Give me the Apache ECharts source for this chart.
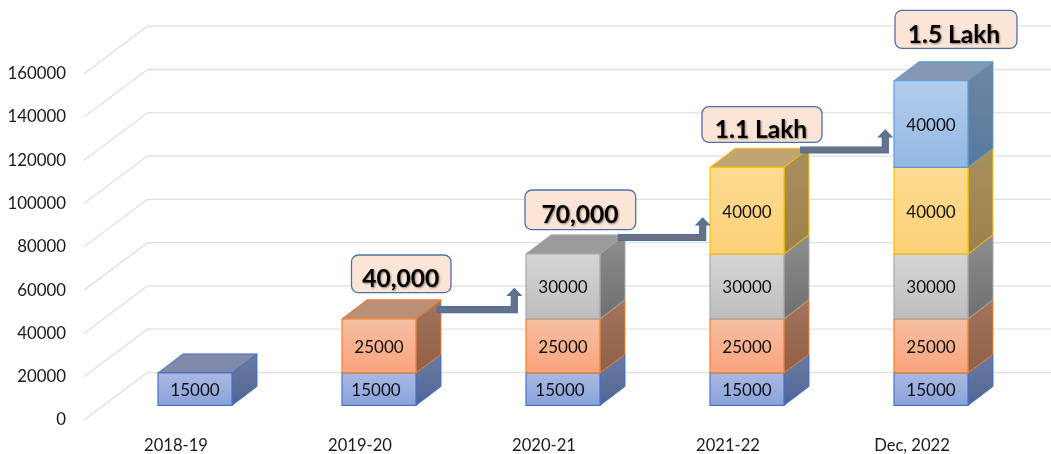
<!DOCTYPE html>
<html>
<head>
<meta charset="utf-8">
<style>
  html, body { margin: 0; padding: 0; background: #fff; }
  #chart { width: 1051px; height: 454px; }
</style>
</head>
<body>
<div id="chart"></div>
<script src="https://cdn.jsdelivr.net/npm/echarts@6/dist/echarts.min.js"></script>
<script>
var categories = ['2018-19', '2019-20', '2020-21', '2021-22', 'Dec, 2022'];
var yTicks = [0, 20000, 40000, 60000, 80000, 100000, 120000, 140000, 160000];

// stacked values, bottom to top
var layer1 = [15000, 15000, 15000, 15000, 15000];
var layer2 = [null, 25000, 25000, 25000, 25000];
var layer3 = [null, null, 30000, 30000, 30000];
var layer4 = [null, null, null, 40000, 40000];
var layer5 = [null, null, null, null, 40000];
var calloutTexts = ['40,000', '70,000', '1.1 Lakh', '1.5 Lakh'];

var FONT = 'Lato';

// oblique projection of the floor and of the bars
var WALL_DX = 63.5, WALL_DY = -47.5;
var BAR_DX = 19, BAR_DY = -14.6;
var DEPTH_DX = 25, DEPTH_DY = -19;
var BAR_WIDTH = 0.402;

var layers = [
    { values: layer1, border: '#4472c4', front: ['#a9b9e4', '#8aa2da'], side: ['#6d7da0', '#4d6494'], top: '#7f89a9' },
    { values: layer2, border: '#ed7d31', front: ['#f7bfa3', '#f9a47d'], side: ['#a3755f', '#8f5f45'], top: '#ba8f78' },
    { values: layer3, border: '#a5a5a5', front: ['#d5d5d5', '#bebebe'], side: ['#8e8e8e', '#6f6f6f'], top: '#9b9b9b' },
    { values: layer4, border: '#ffc000', front: ['#fddb92', '#fdd178'], side: ['#a8905f', '#9d8148'], top: '#bfa573' },
    { values: layer5, border: '#5b9bd5', front: ['#b3cdeb', '#93b8e3'], side: ['#6f86a0', '#557a9f'], top: '#8399b3' }
];

function vertical(colors) {
    return new echarts.graphic.LinearGradient(0, 0, 0, 1, [
        { offset: 0, color: colors[0] },
        { offset: 1, color: colors[1] }
    ]);
}

// gridlines on the side wall and back wall
function renderWall(params, api) {
    var p = api.coord([0, api.value(1)]);
    var x0 = params.coordSys.x;
    return {
        type: 'polyline',
        shape: { points: [[x0, p[1]], [x0 + WALL_DX, p[1] + WALL_DY], [api.getWidth(), p[1] + WALL_DY]] },
        style: { stroke: '#e0e0e0', lineWidth: 1.3, fill: null }
    };
}

function makeBoxRenderer(layer, index) {
    return function (params, api) {
        var cat = api.value(0);
        var low = api.coord([cat, api.value(1)]);
        var high = api.coord([cat, api.value(2)]);
        var w = api.size([1, 0])[0] * BAR_WIDTH;
        var x1 = low[0] + BAR_DX - w / 2;
        var x2 = x1 + w;
        var y1 = high[1] + BAR_DY;
        var y2 = low[1] + BAR_DY;

        // only the highest box of a stack shows its lid
        var isTop = true;
        for (var i = index + 1; i < layers.length; i++) {
            if (layers[i].values[cat] != null) isTop = false;
        }

        var children = [{
            type: 'polygon',
            shape: { points: [[x2, y1], [x2 + DEPTH_DX, y1 + DEPTH_DY], [x2 + DEPTH_DX, y2 + DEPTH_DY], [x2, y2]] },
            style: { fill: vertical(layer.side), stroke: layer.border, lineWidth: 1 }
        }];
        if (isTop) {
            children.push({
                type: 'polygon',
                shape: { points: [[x1, y1], [x1 + DEPTH_DX, y1 + DEPTH_DY], [x2 + DEPTH_DX, y1 + DEPTH_DY], [x2, y1]] },
                style: { fill: layer.top, stroke: layer.border, lineWidth: 1 }
            });
        }
        children.push({
            type: 'rect',
            shape: { x: x1, y: y1, width: w, height: y2 - y1 },
            style: { fill: vertical(layer.front), stroke: layer.border, lineWidth: 1.2 }
        });
        // the two middle 15000 labels sit a little left in the original
        var nudge = (index === 0 && (cat === 1 || cat === 2)) ? -3 : 0;
        children.push({
            type: 'text',
            style: {
                x: (x1 + x2) / 2 + nudge,
                y: (y1 + y2) / 2 + 1.5,
                text: String(api.value(2) - api.value(1)),
                font: '17px ' + FONT,
                fill: '#111',
                align: 'center',
                verticalAlign: 'middle'
            }
        });
        return { type: 'group', children: children };
    };
}

var series = [{
    type: 'custom',
    silent: true,
    z: 1,
    renderItem: renderWall,
    encode: { x: 0, y: 1 },
    data: yTicks.map(function (v) { return [0, v]; })
}];

var running = categories.map(function () { return 0; });
layers.forEach(function (layer, index) {
    var rows = [];
    layer.values.forEach(function (v, cat) {
        if (v == null) return;
        rows.push([cat, running[cat], running[cat] + v]);
        running[cat] += v;
    });
    series.push({
        type: 'custom',
        silent: true,
        z: 2 + index,
        renderItem: makeBoxRenderer(layer, index),
        encode: { x: 0, y: [1, 2] },
        data: rows
    });
});

// callout box drawn over the chart, as in the original slide
function callout(text, x, y, w, h, textX, textY) {
    return [{
        type: 'rect',
        z: 20,
        shape: { x: x, y: y, width: w, height: h, r: 7 },
        style: { fill: '#fbe5d6', stroke: '#4f6fa6', lineWidth: 1.3 }
    }, {
        type: 'text',
        z: 21,
        x: textX,
        y: textY,
        style: {
            text: text,
            font: 'bold 24.5px ' + FONT,
            fill: '#000',
            align: 'center',
            verticalAlign: 'middle',
            textShadowColor: 'rgba(0,0,0,0.45)',
            textShadowBlur: 2,
            textShadowOffsetX: 1,
            textShadowOffsetY: 1
        }
    }];
}

function bentArrow(xStart, yBottom, xRight, yTip) {
    var t = 6;
    var head = 7;
    var wing = 3.6;
    return {
        type: 'polygon',
        z: 19,
        shape: {
            points: [
                [xStart, yBottom - t], [xRight - t, yBottom - t], [xRight - t, yTip + head],
                [xRight - t - wing, yTip + head], [xRight - t / 2, yTip], [xRight + wing, yTip + head],
                [xRight, yTip + head], [xRight, yBottom], [xStart, yBottom]
            ]
        },
        style: { fill: '#687282', stroke: '#4a6ea8', lineWidth: 1.2 }
    };
}

var overlay = [].concat(
    bentArrow(437.5, 312.7, 517.3, 288.5),
    bentArrow(618.5, 240.5, 705.7, 218),
    bentArrow(800.7, 153, 888.3, 130),
    callout(calloutTexts[0], 351.5, 255, 99.5, 37.7, 400.7, 279),
    callout(calloutTexts[1], 525, 190, 110.7, 39.7, 580, 215),
    callout(calloutTexts[2], 702, 106.7, 120, 35.6, 761, 130),
    callout(calloutTexts[3], 895, 10.3, 122, 38, 954, 35)
);

var myChart = echarts.init(document.getElementById('chart'));
myChart.setOption({
    animation: false,
    backgroundColor: '#fff',
    grid: { left: 84, right: 47, top: 73.7, bottom: 33.5 },
    xAxis: {
        type: 'category',
        data: categories,
        axisLine: { show: false },
        axisTick: { show: false },
        axisLabel: { margin: 17, fontFamily: FONT, fontSize: 16.6, color: '#1a1a1a' }
    },
    yAxis: {
        type: 'value',
        min: 0,
        max: 160000,
        interval: 20000,
        axisLine: { show: false },
        axisTick: { show: false },
        splitLine: { show: false },
        axisLabel: {
            margin: 18,
            fontFamily: FONT,
            fontSize: 16.8,
            color: '#1a1a1a',
            padding: [8, 0, 0, 0],
            formatter: function (v) { return String(v); }
        }
    },
    series: series,
    graphic: overlay
});
</script>
</body>
</html>
